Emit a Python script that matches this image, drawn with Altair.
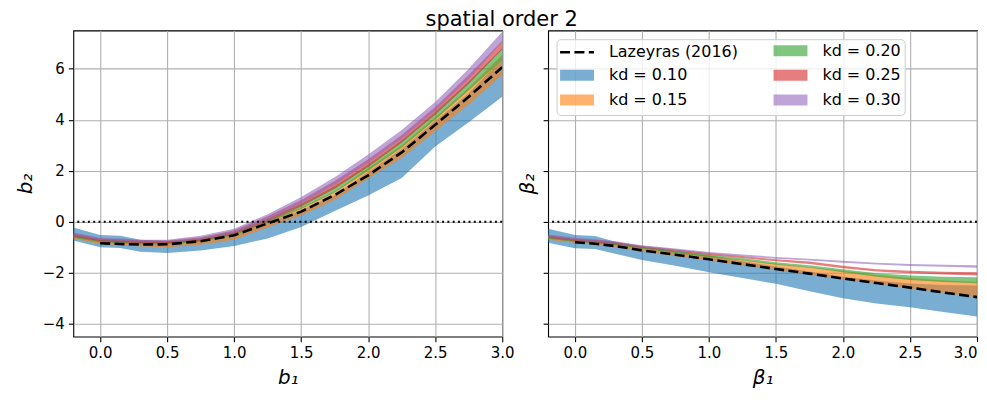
import altair as alt
import pandas as pd

# ---------------- data ----------------
XS = [-0.2, 0.0, 0.15, 0.3, 0.5, 0.75, 1.0, 1.25, 1.5, 1.75, 2.0, 2.25, 2.5, 2.75, 3.0]
LX = [0.0, 0.15, 0.3, 0.5, 0.75, 1.0, 1.25, 1.5, 1.75, 2.0, 2.25, 2.5, 2.75, 3.0]

# left panel: b2 vs b1
B_BLUE_LO = [-0.73, -1.00, -1.03, -1.17, -1.22, -1.12, -0.95, -0.65, -0.20, 0.42, 1.03, 1.72, 2.95, 3.90, 4.90]
B_BLUE_HI = [-0.22, -0.52, -0.55, -0.70, -0.75, -0.68, -0.50, -0.05, 0.45, 1.05, 1.95, 2.85, 3.95, 5.05, 6.40]
B_ORANGE_LO = [-0.65, -0.88, -0.92, -0.97, -1.00, -0.90, -0.70, -0.22, 0.25, 0.85, 1.70, 2.50, 3.55, 4.60, 5.75]
B_ORANGE_HI = [-0.52, -0.74, -0.78, -0.82, -0.80, -0.70, -0.45, 0.05, 0.55, 1.20, 2.10, 3.00, 4.10, 5.25, 6.55]
B_GREEN_LO = [-0.62, -0.80, -0.84, -0.88, -0.88, -0.78, -0.53, -0.05, 0.50, 1.15, 2.00, 2.90, 4.00, 5.15, 6.35]
B_GREEN_HI = [-0.50, -0.70, -0.72, -0.76, -0.76, -0.64, -0.38, 0.13, 0.70, 1.40, 2.25, 3.20, 4.30, 5.50, 6.80]
B_RED_LO = [-0.58, -0.76, -0.80, -0.84, -0.84, -0.74, -0.48, 0.00, 0.60, 1.30, 2.15, 3.10, 4.20, 5.40, 6.75]
B_RED_HI = [-0.45, -0.65, -0.68, -0.72, -0.73, -0.60, -0.33, 0.22, 0.85, 1.60, 2.45, 3.40, 4.50, 5.75, 7.10]
B_PURPLE_LO = [-0.55, -0.72, -0.75, -0.80, -0.80, -0.70, -0.44, 0.05, 0.70, 1.45, 2.30, 3.25, 4.35, 5.60, 7.05]
B_PURPLE_HI = [-0.42, -0.62, -0.65, -0.70, -0.70, -0.55, -0.27, 0.30, 0.97, 1.75, 2.64, 3.60, 4.70, 6.00, 7.45]
B_LAZEYRAS = [-0.84, -0.87, -0.89, -0.88, -0.76, -0.53, -0.06, 0.40, 1.05, 1.82, 2.72, 3.80, 4.90, 6.06]

# right panel: beta2 vs beta1
R_BLUE_LO = [-0.82, -1.04, -1.07, -1.25, -1.50, -1.72, -1.98, -2.20, -2.43, -2.72, -3.00, -3.20, -3.35, -3.53, -3.71]
R_BLUE_HI = [-0.27, -0.52, -0.56, -0.78, -1.00, -1.15, -1.32, -1.55, -1.75, -1.95, -2.15, -2.30, -2.42, -2.48, -2.50]
R_ORANGE_LO = [-0.70, -0.82, -0.90, -0.98, -1.14, -1.35, -1.50, -1.70, -1.87, -2.05, -2.24, -2.42, -2.60, -2.78, -2.96]
R_ORANGE_HI = [-0.58, -0.70, -0.76, -0.85, -1.00, -1.18, -1.32, -1.50, -1.64, -1.78, -1.92, -2.08, -2.20, -2.30, -2.35]
R_GREEN_LO = [-0.66, -0.78, -0.84, -0.92, -1.06, -1.22, -1.38, -1.52, -1.68, -1.80, -1.98, -2.15, -2.28, -2.36, -2.41]
R_GREEN_HI = [-0.55, -0.68, -0.74, -0.82, -0.97, -1.12, -1.28, -1.42, -1.58, -1.70, -1.86, -2.02, -2.10, -2.15, -2.17]
R_RED_LO = [-0.62, -0.75, -0.80, -0.88, -1.02, -1.16, -1.30, -1.42, -1.55, -1.65, -1.82, -1.95, -2.02, -2.06, -2.10]
R_RED_HI = [-0.52, -0.65, -0.70, -0.78, -0.94, -1.08, -1.22, -1.34, -1.47, -1.56, -1.72, -1.86, -1.92, -1.96, -1.98]
R_PURPLE_LO = [-0.60, -0.72, -0.78, -0.86, -1.00, -1.12, -1.25, -1.35, -1.45, -1.52, -1.60, -1.67, -1.73, -1.76, -1.80]
R_PURPLE_HI = [-0.50, -0.62, -0.68, -0.76, -0.92, -1.05, -1.18, -1.28, -1.38, -1.45, -1.53, -1.60, -1.65, -1.68, -1.70]
R_LAZEYRAS = [-0.80, -0.86, -0.95, -1.12, -1.29, -1.47, -1.66, -1.85, -2.03, -2.22, -2.40, -2.58, -2.77, -2.95]

ZERO = [0.0]

LAZ = "Lazeyras (2016)"
KD_LABELS = ["kd = 0.10", "kd = 0.15", "kd = 0.20", "kd = 0.25", "kd = 0.30"]
# tab10 colours at alpha 0.6
KD_COLORS = ["rgba(31,119,180,0.6)", "rgba(255,127,14,0.6)", "rgba(44,160,44,0.6)",
             "rgba(214,39,40,0.6)", "rgba(148,103,189,0.6)"]
LEGEND_ORDER = [LAZ] + KD_LABELS   # legend fills column by column
X_TICKS = [0.0, 0.5, 1.0, 1.5, 2.0, 2.5, 3.0]
Y_TICKS = [-4, -2, 0, 2, 4, 6]

# legend styling per entry: band patches for kd, dashed line for Lazeyras
FILL_OF = dict(zip(KD_LABELS, KD_COLORS))
FILL_OF[LAZ] = "transparent"
STROKE_OF = {k: "transparent" for k in KD_LABELS}
STROKE_OF[LAZ] = "black"
DASH_OF = {k: [1, 0] for k in KD_LABELS}
DASH_OF[LAZ] = [10, 4.4]
RECT = "M-8.5,-2.75H8.5V2.75H-8.5Z"
LINE = "M-8.5,0H8.5"
SHAPE_OF = {k: RECT for k in KD_LABELS}
SHAPE_OF[LAZ] = LINE

FONT = "DejaVu Sans"


def make_legend():
    return alt.Legend(
        title=None, orient="none", legendX=8.5, legendY=8.8, columns=2, columnPadding=29,
        rowPadding=2.7, symbolSize=16, symbolOffset=9, labelOffset=24, gridAlign="each",
        symbolStrokeWidth=2.6, symbolOpacity=1,
        labelFontSize=16, labelFont=FONT, labelColor="black",
        fillColor="rgba(255,255,255,0.8)", strokeColor="#cccccc", cornerRadius=4,
        padding=3.5,
    )


def panel(lows, highs, laz, xtitle, ytitle, show_labels, show_legend):
    leg = make_legend() if show_legend else None
    fill_scale = alt.Scale(domain=LEGEND_ORDER, range=[FILL_OF[l] for l in LEGEND_ORDER])
    stroke_scale = alt.Scale(domain=LEGEND_ORDER, range=[STROKE_OF[l] for l in LEGEND_ORDER])
    dash_scale = alt.Scale(domain=LEGEND_ORDER, range=[DASH_OF[l] for l in LEGEND_ORDER])
    shape_scale = alt.Scale(domain=LEGEND_ORDER, range=[SHAPE_OF[l] for l in LEGEND_ORDER])
    xenc = alt.X("x:Q", scale=alt.Scale(domain=[-0.2, 3.0], nice=False, zero=False),
                 axis=alt.Axis(values=X_TICKS, format=".1f", title=xtitle,
                               labelFlush=show_legend,
                               labelPadding=4, titlePadding=7))
    yaxis = alt.Axis(values=Y_TICKS, format="d", title=ytitle, labels=show_labels,
                     labelPadding=4, titlePadding=7 if show_labels else 5, labelFlush=False)
    ysc = alt.Scale(domain=[-4.5, 7.5], nice=False, zero=False)
    yenc = alt.Y("lo:Q", scale=ysc, axis=yaxis)
    layers = []
    for lab, lo, hi in zip(KD_LABELS, lows, highs):
        df = pd.DataFrame({"x": XS, "lo": lo, "hi": hi, "series": lab})
        layers.append(
            alt.Chart(df).mark_area(clip=True, strokeJoin="round", opacity=1).encode(
                x=xenc, y=yenc, y2="hi:Q",
                color=alt.Color("series:N", scale=fill_scale, legend=leg),
            )
        )
    ldf = pd.DataFrame({"x": LX, "lo": laz, "series": LAZ})
    layers.append(
        alt.Chart(ldf).mark_line(clip=True, strokeWidth=2.6, strokeJoin="round", opacity=1).encode(
            x=xenc, y=yenc,
            stroke=alt.Stroke("series:N", scale=stroke_scale, legend=leg),
            strokeDash=alt.StrokeDash("series:N", scale=dash_scale, legend=leg),
        )
    )
    if show_legend:
        # legend-only layer (no rows): supplies the per-entry symbol shapes
        edf = pd.DataFrame({"x": pd.Series([], dtype=float), "lo": pd.Series([], dtype=float),
                            "series": pd.Series([], dtype=str)})
        layers.append(
            alt.Chart(edf).mark_point(filled=True, strokeJoin="round", opacity=1).encode(
                x=xenc, y=yenc,
                color=alt.Color("series:N", scale=fill_scale, legend=leg),
                stroke=alt.Stroke("series:N", scale=stroke_scale, legend=leg),
                strokeDash=alt.StrokeDash("series:N", scale=dash_scale, legend=leg),
                shape=alt.Shape("series:N", scale=shape_scale, legend=leg),
            )
        )
    zdf = pd.DataFrame({"lo": ZERO})
    layers.append(
        alt.Chart(zdf).mark_rule(strokeDash=[2, 3.3], strokeWidth=2, color="black").encode(y=yenc)
    )
    return alt.layer(*layers).properties(width=430, height=307)


left = panel(
    [B_BLUE_LO, B_ORANGE_LO, B_GREEN_LO, B_RED_LO, B_PURPLE_LO],
    [B_BLUE_HI, B_ORANGE_HI, B_GREEN_HI, B_RED_HI, B_PURPLE_HI],
    B_LAZEYRAS, "b₁", "b₂", True, False,
)
right = panel(
    [R_BLUE_LO, R_ORANGE_LO, R_GREEN_LO, R_RED_LO, R_PURPLE_LO],
    [R_BLUE_HI, R_ORANGE_HI, R_GREEN_HI, R_RED_HI, R_PURPLE_HI],
    R_LAZEYRAS, "β₁", "β₂", False, True,
)

chart = (
    alt.hconcat(left, right, spacing=1)
    .resolve_scale(color="independent", stroke="independent",
                   strokeDash="independent", shape="independent")
    .properties(
        title=alt.Title("spatial order 2", fontSize=21, font=FONT, fontWeight="normal",
                        anchor="middle", offset=0, dx=5, color="black"),
        padding={"left": 6.5, "top": 0, "right": 0, "bottom": 0},
    )
    .configure_view(stroke="black", strokeWidth=1.1)
    .configure_axis(
        domain=False, grid=True, gridColor="#b0b0b0", gridWidth=1.1,
        tickColor="black", tickSize=5, tickWidth=1.1,
        labelFont=FONT, labelFontSize=15, labelColor="black",
        titleFont=FONT, titleFontSize=20, titleFontStyle="italic",
        titleFontWeight="normal", titleColor="black",
    )
)

chart.save("out.html", embed_options={"renderer": "svg", "actions": False})
